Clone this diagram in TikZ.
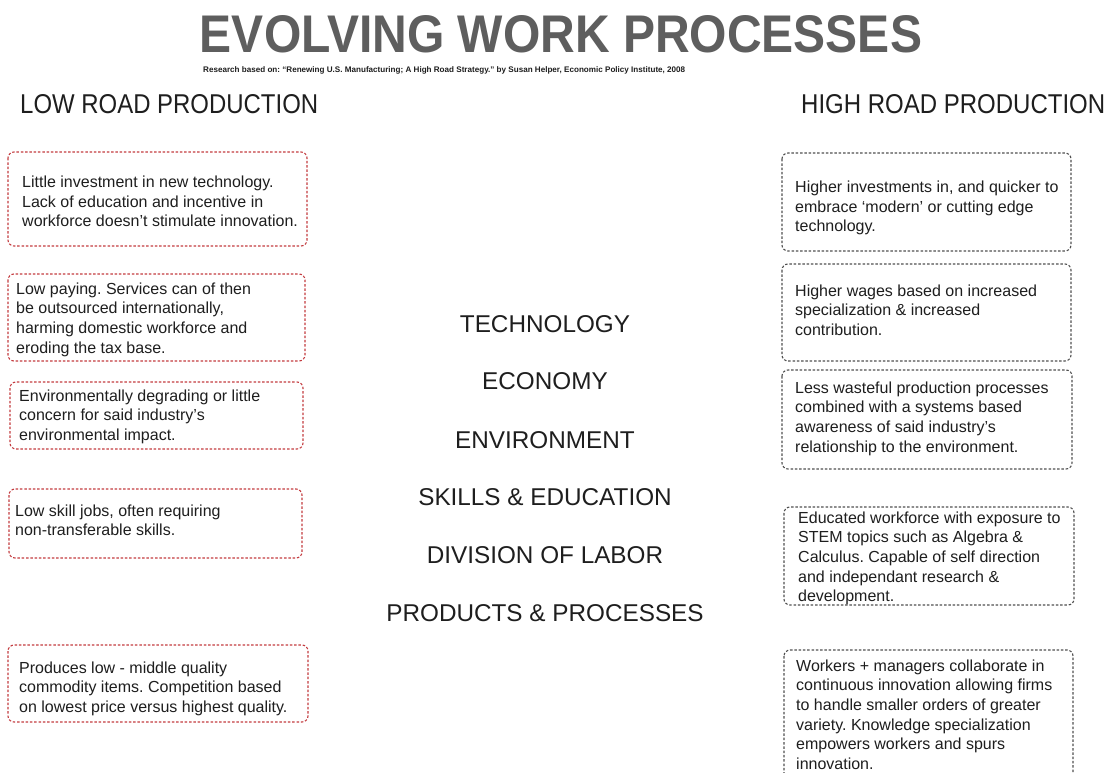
\documentclass[tikz,border=0pt]{standalone}
\usepackage{fontspec}
\setmainfont{Liberation Sans}
\usepackage{graphicx}
\frenchspacing
\definecolor{titlegray}{HTML}{5E5E5E}
\definecolor{textdark}{HTML}{1E1E1E}
\definecolor{boxred}{HTML}{C43C40}
\definecolor{boxgray}{HTML}{505050}
\tikzset{
  redbox/.style={draw=boxred, line width=1.1pt, dash pattern=on 2.5pt off 1.8pt, rounded corners=6pt, rectangle},
  graybox/.style={draw=boxgray, line width=1.1pt, dash pattern=on 2.5pt off 1.8pt, rounded corners=6pt, rectangle},
  boxtext/.style={anchor=north west, inner sep=0pt, align=left, text=textdark, font=\fontsize{16}{19.6}\selectfont},
  midlabel/.style={inner sep=0pt, text=textdark, font=\fontsize{24.3}{27}\selectfont},
  head/.style={inner sep=0pt, text=textdark, anchor=north west},
}
\begin{document}
\begin{tikzpicture}[x=1pt,y=-1pt]
\useasboundingbox (0,0) rectangle (1117,773);
\fill[white] (0,0) rectangle (1117,773);
% title
\node[inner sep=0pt, anchor=north, text=titlegray] (title) at (561,15)
  {\resizebox{722pt}{37pt}{\bfseries EVOLVING WORK PROCESSES}};
\node[inner sep=0pt, anchor=north west, text=textdark] (sub) at (203,66)
  {\resizebox{482pt}{!}{\bfseries\fontsize{7}{8}\selectfont Research based on: ``Renewing U.S. Manufacturing; A High Road Strategy.'' by Susan Helper, Economic Policy Institute, 2008}};
% headings
\node[head] (low) at (20,94) {\resizebox{298pt}{19pt}{LOW ROAD PRODUCTION}};
\node[head] (high) at (801,94) {\resizebox{304pt}{19pt}{HIGH ROAD PRODUCTION}};
% middle labels
\node[midlabel] (tech) at (545,324) {TECHNOLOGY};
\node[midlabel] (econ) at (545,381) {ECONOMY};
\node[midlabel] (env) at (545,440) {ENVIRONMENT};
\node[midlabel] (skills) at (545,497) {SKILLS \& EDUCATION};
\node[midlabel] (div) at (545,555) {DIVISION OF LABOR};
\node[midlabel] (prod) at (545,613) {PRODUCTS \& PROCESSES};
% left boxes
\draw[redbox] (8,152) rectangle (307,246);
\node[boxtext] (l1) at (22,176) {Little investment in new technology.\\Lack of education and incentive in\\workforce doesn't stimulate innovation.};
\draw[redbox] (8,274) rectangle (305,361);
\node[boxtext] (l2) at (16,282.5) {Low paying. Services can of then\\be outsourced internationally,\\harming domestic workforce and\\eroding the tax base.};
\draw[redbox] (10,382) rectangle (303,449);
\node[boxtext] (l3) at (19,389.5) {Environmentally degrading or little\\concern for said industry's\\environmental impact.};
\draw[redbox] (9,489) rectangle (302,558);
\node[boxtext] (l4) at (15,504.5) {Low skill jobs, often requiring\\non-transferable skills.};
\draw[redbox] (8,645) rectangle (308,722);
\node[boxtext] (l5) at (19,661.5) {Produces low - middle quality\\commodity items. Competition based\\on lowest price versus highest quality.};
% right boxes
\draw[graybox] (782,153) rectangle (1071,251);
\node[boxtext] (r1) at (795,181) {Higher investments in, and quicker to\\embrace `modern' or cutting edge\\technology.};
\draw[graybox] (782,264) rectangle (1071,361);
\node[boxtext] (r2) at (795,284.5) {Higher wages based on increased\\specialization \& increased\\contribution.};
\draw[graybox] (782,370) rectangle (1072,469);
\node[boxtext] (r3) at (795,381.5) {Less wasteful production processes\\combined with a systems based\\awareness of said industry's\\relationship to the environment.};
\draw[graybox] (784,507) rectangle (1074,605);
\node[boxtext] (r4) at (798,511.5) {Educated workforce with exposure to\\STEM topics such as Algebra \&\\Calculus. Capable of self direction\\and independant research \&\\development.};
\draw[graybox] (784,650) rectangle (1073,785);
\node[boxtext] (r5) at (796,659.5) {Workers + managers collaborate in\\continuous innovation allowing firms\\to handle smaller orders of greater\\variety. Knowledge specialization\\empowers workers and spurs\\innovation.};
\end{tikzpicture}
\end{document}
